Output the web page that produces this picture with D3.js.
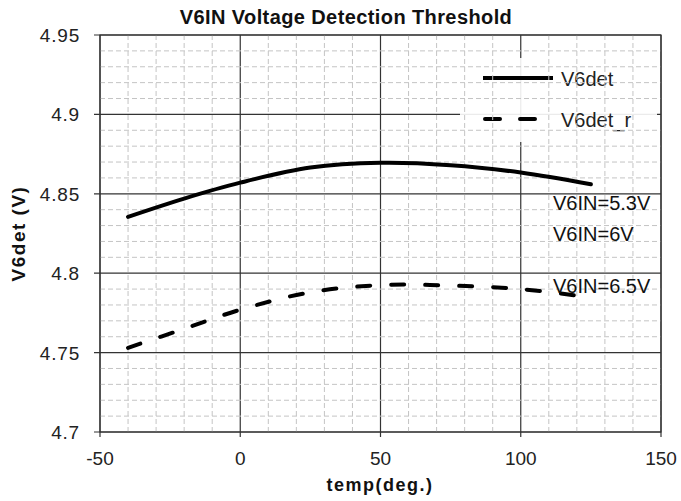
<!DOCTYPE html>
<html>
<head>
<meta charset="utf-8">
<script src="https://cdn.jsdelivr.net/npm/d3@7"></script>
<style>
  body { margin: 0; background: #fff; }
  svg { display: block; font-family: 'Liberation Sans', Arial, sans-serif; }
</style>
</head>
<body>
<div id="chart"></div>
<script>
const temps = [-40, -20, 0, 25, 50, 75, 100, 125];
const v6det = [4.8355, 4.847, 4.857, 4.8665, 4.8695, 4.868, 4.8634, 4.856];
const v6detR = [4.753, 4.765, 4.777, 4.788, 4.7925, 4.7922, 4.790, 4.7847];

const xTicks = [-50, 0, 50, 100, 150];
const yTicks = [4.7, 4.75, 4.8, 4.85, 4.9, 4.95];
const seriesNames = ['V6det', 'V6det_r'];
const notes = [
  { label: 'V6IN=5.3V', y: 4.8395 },
  { label: 'V6IN=6V', y: 4.8205 },
  { label: 'V6IN=6.5V', y: 4.7875 },
];

const width = 681;
const height = 501;
const margin = { top: 35, right: 20, bottom: 69, left: 100 };
const plotW = width - margin.left - margin.right;
const plotH = height - margin.top - margin.bottom;

const svg = d3.select('#chart').append('svg')
  .attr('width', width)
  .attr('height', height);

const x = d3.scaleLinear().domain([-50, 150]).range([0, plotW]);
const y = d3.scaleLinear().domain([4.7, 4.95]).range([plotH, 0]);

const g = svg.append('g')
  .attr('transform', `translate(${margin.left},${margin.top})`);

// major grid
g.append('g')
  .selectAll('line')
  .data(xTicks)
  .join('line')
  .attr('x1', d => x(d)).attr('x2', d => x(d))
  .attr('y1', 0).attr('y2', plotH + 5)
  .attr('stroke', '#333')
  .attr('stroke-width', 1.2);

g.append('g')
  .selectAll('line')
  .data(yTicks)
  .join('line')
  .attr('x1', -6).attr('x2', plotW)
  .attr('y1', d => y(d)).attr('y2', d => y(d))
  .attr('stroke', '#333')
  .attr('stroke-width', 1.2);

// legend box, semi transparent over the major grid
const legend = g.append('g');
legend.append('rect')
  .attr('x', 360).attr('y', 23)
  .attr('width', 197).attr('height', 84)
  .attr('fill', '#fff')
  .attr('opacity', 0.9);

// minor grid, dashed, skipping the major positions
const xMinor = d3.range(-50, 151, 10).filter(d => !xTicks.includes(d));
const yMinor = d3.range(0, 26).map(i => 4.7 + i * 0.01)
  .filter(d => !yTicks.some(t => Math.abs(t - d) < 1e-6));

g.append('g')
  .selectAll('line')
  .data(xMinor)
  .join('line')
  .attr('x1', d => x(d)).attr('x2', d => x(d))
  .attr('y1', 0).attr('y2', plotH)
  .attr('stroke', '#c4c4c4')
  .attr('stroke-dasharray', '5,3');

g.append('g')
  .selectAll('line')
  .data(yMinor)
  .join('line')
  .attr('x1', 0).attr('x2', plotW)
  .attr('y1', d => y(d)).attr('y2', d => y(d))
  .attr('stroke', '#c4c4c4')
  .attr('stroke-dasharray', '5,3');

// frame
g.append('rect')
  .attr('width', plotW).attr('height', plotH)
  .attr('fill', 'none')
  .attr('stroke', '#333')
  .attr('stroke-width', 1.2);

// tick labels
g.append('g')
  .selectAll('text')
  .data(yTicks)
  .join('text')
  .attr('x', -20)
  .attr('y', d => y(d) + 7)
  .attr('text-anchor', 'end')
  .attr('font-size', 19)
  .attr('letter-spacing', 0.8)
  .attr('fill', '#222')
  .text(d => d);

g.append('g')
  .selectAll('text')
  .data(xTicks)
  .join('text')
  .attr('x', d => x(d))
  .attr('y', plotH + 33)
  .attr('text-anchor', 'middle')
  .attr('font-size', 19)
  .attr('fill', '#222')
  .text(d => d);

// curves
const line = d3.line()
  .x(d => x(d[0]))
  .y(d => y(d[1]))
  .curve(d3.curveCatmullRom.alpha(0.5));

g.append('path')
  .datum(temps.map((t, i) => [t, v6det[i]]))
  .attr('d', line)
  .attr('fill', 'none')
  .attr('stroke', '#000')
  .attr('stroke-width', 4)
  .attr('stroke-linecap', 'round');

g.append('path')
  .datum(temps.map((t, i) => [t, v6detR[i]]))
  .attr('d', line)
  .attr('fill', 'none')
  .attr('stroke', '#000')
  .attr('stroke-width', 4)
  .attr('stroke-linecap', 'round')
  .attr('stroke-dasharray', '13,21');

// legend entries
legend.append('line')
  .attr('x1', 383).attr('x2', 453)
  .attr('y1', 43).attr('y2', 43)
  .attr('stroke', '#000').attr('stroke-width', 4);
legend.append('line')
  .attr('x1', 385).attr('x2', 437)
  .attr('y1', 84).attr('y2', 84)
  .attr('stroke', '#000').attr('stroke-width', 4)
  .attr('stroke-linecap', 'round')
  .attr('stroke-dasharray', '15,20');
legend.selectAll('text')
  .data(seriesNames)
  .join('text')
  .attr('x', 461)
  .attr('y', (d, i) => 51 + i * 41)
  .attr('font-size', 20)
  .attr('fill', '#222')
  .text(d => d);

// condition labels
g.append('g')
  .selectAll('text')
  .data(notes)
  .join('text')
  .attr('x', 453)
  .attr('y', d => y(d.y))
  .attr('font-size', 20)
  .attr('fill', '#111')
  .text(d => d.label);

// titles
svg.append('text')
  .attr('x', 346)
  .attr('y', 24)
  .attr('text-anchor', 'middle')
  .attr('font-size', 20)
  .attr('letter-spacing', 0.4)
  .attr('font-weight', 'bold')
  .attr('fill', '#111')
  .text('V6IN Voltage Detection Threshold');

svg.append('text')
  .attr('x', 380)
  .attr('y', 491)
  .attr('text-anchor', 'middle')
  .attr('font-size', 18)
  .attr('letter-spacing', 1.5)
  .attr('font-weight', 'bold')
  .attr('fill', '#111')
  .text('temp(deg.)');

svg.append('text')
  .attr('transform', `translate(25,${margin.top + plotH / 2}) rotate(-90)`)
  .attr('text-anchor', 'middle')
  .attr('font-size', 19)
  .attr('letter-spacing', 1.5)
  .attr('font-weight', 'bold')
  .attr('fill', '#111')
  .text('V6det (V)');
</script>
</body>
</html>
